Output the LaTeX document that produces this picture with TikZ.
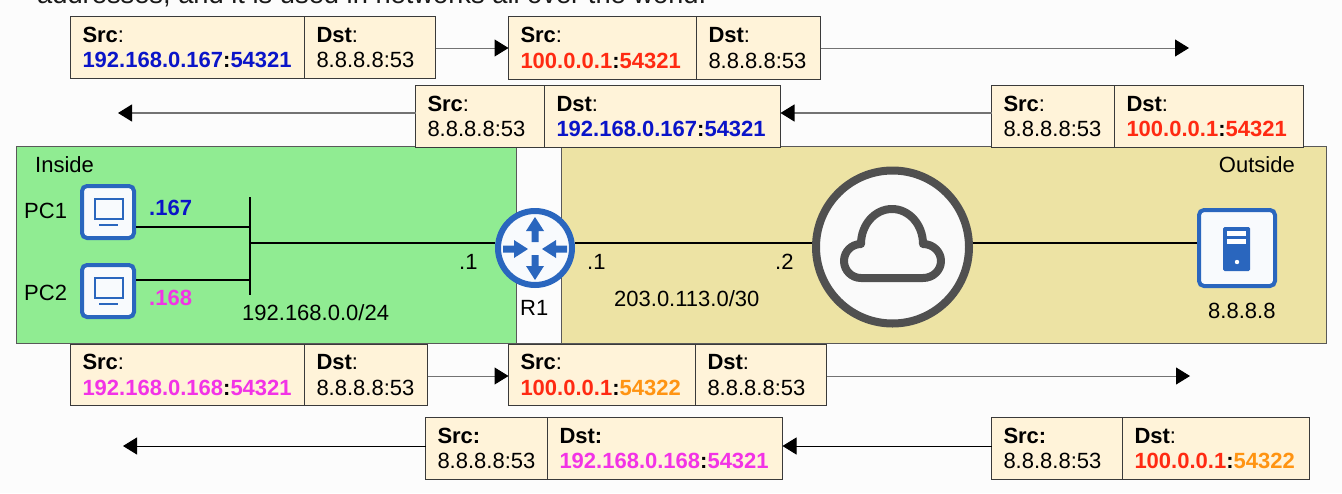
\documentclass[tikz,border=0pt]{standalone}
\usepackage{fontspec}
\setmainfont{Liberation Sans}
\definecolor{pktfill}{HTML}{FFF3D9}
\definecolor{pktline}{HTML}{3A3A3A}
\definecolor{ingreen}{HTML}{90EC92}
\definecolor{outsand}{HTML}{EDE3A4}
\definecolor{icoblue}{HTML}{2A66BE}
\definecolor{icowhite}{HTML}{F8FAFD}
\definecolor{cloudgray}{HTML}{505050}
\definecolor{tblue}{HTML}{0A14C8}
\definecolor{tred}{HTML}{FF2A12}
\definecolor{tmag}{HTML}{F233E6}
\definecolor{torange}{HTML}{FF9412}
\newcommand{\A}[1]{\textcolor{tblue}{\textbf{#1}}}
\newcommand{\R}[1]{\textcolor{tred}{\textbf{#1}}}
\newcommand{\M}[1]{\textcolor{tmag}{\textbf{#1}}}
\newcommand{\OG}[1]{\textcolor{torange}{\textbf{#1}}}
\newcommand{\cl}{\textbf{:}}
% name, x0, xsplit, x1, y0, y1, left text, right text
\newcommand{\pkt}[8]{%
  \pgfmathsetmacro{\wa}{#3-#2}\pgfmathsetmacro{\wb}{#4-#3}\pgfmathsetmacro{\hh}{#6-#5}%
  \pgfmathsetmacro{\ta}{#3-#2-24}\pgfmathsetmacro{\tb}{#4-#3-24}%
  \node[cell,anchor=north west,minimum width=\wa pt,minimum height=\hh pt,text width=\ta pt] (#1a) at (#2+.5,#5+.5) {#7};
  \node[cell,anchor=north west,minimum width=\wb pt,minimum height=\hh pt,text width=\tb pt] (#1b) at (#3+.5,#5+.5) {#8};
}
\newcommand{\pcicon}[3]{% name, x0, y0
  \node[devbox,anchor=north west,minimum size=52pt] (#1) at (#2,#3) {};
  \draw[icoblue,line width=2.5pt] (#2+15,#3+15) rectangle (#2+43,#3+35);
  \draw[icoblue,line width=2.5pt] (#2+19,#3+41) -- (#2+38,#3+41);
}
\newcommand{\rarrow}[4]{% base x,y; unit direction towards the tip, canvas sense
  \fill[icoblue,shift={(#1,#2)},cm={#3,#4,-#4,#3,(0,0)}]
   (0,-3.5) -- (11,-3.5) -- (11,-9) -- (25,0) -- (11,9) -- (11,3.5) -- (0,3.5) -- cycle;
}
\tikzset{
  cell/.style={draw=pktline,line width=1pt,fill=pktfill,inner xsep=12pt,inner ysep=0pt,outer sep=0pt,align=left,
    font=\fontsize{22}{25.5}\selectfont},
  lbl/.style={anchor=base west,inner sep=0pt,font=\fontsize{22}{25}\selectfont},
  devbox/.style={draw=icoblue,line width=4pt,fill=icowhite,rounded corners=5pt,inner sep=0pt},
  wire/.style={black,line width=2.8pt},
  flow/.style={draw=#1,-{Triangle[length=14pt,width=17pt,color=black]}},
  flow/.default={gray}
}
\usetikzlibrary{arrows.meta}
\begin{document}
\begin{tikzpicture}[x=1pt,y=-1pt]
\useasboundingbox (0,0) rectangle (1342,493);
\clip (0,0) rectangle (1342,493);
\fill[white!99!black] (0,0) rectangle (1342,493);
\node[lbl,font=\fontsize{27.3}{30}\selectfont,text=black!90] (caption) at (37,3) {addresses, and it is used in networks all over the world.};
% zones
\node[draw=black!65,line width=1pt,fill=ingreen,anchor=north west,minimum width=500pt,minimum height=197pt,inner sep=0pt,outer sep=0pt] (inzone) at (16,146.5) {};
\node[draw=black!65,line width=1pt,fill=outsand,anchor=north west,minimum width=765pt,minimum height=197pt,inner sep=0pt,outer sep=0pt] (outzone) at (561,146.5) {};
\draw[black!65,line width=1pt] (inzone.north east) -- (outzone.north west);
\draw[black!65,line width=1pt] (inzone.south east) -- (outzone.south west);
% packets
\pkt{pa}{70}{304}{435}{16}{78}{\textbf{Src}:\\\A{192.168.0.167}\cl\A{54321}}{\textbf{Dst}:\\8.8.8.8:53}
\pkt{pb}{508}{696}{820}{16}{79}{\textbf{Src}:\\\R{100.0.0.1}\cl\R{54321}}{\textbf{Dst}:\\8.8.8.8:53}
\pkt{pc}{415}{544}{780}{85}{147}{\textbf{Src}:\\8.8.8.8:53}{\textbf{Dst}:\\\A{192.168.0.167}\cl\A{54321}}
\pkt{pd}{991}{1114}{1303}{85}{147}{\textbf{Src}:\\8.8.8.8:53}{\textbf{Dst}:\\\R{100.0.0.1}\cl\R{54321}}
\pkt{pe}{70}{304}{427}{344}{405}{\textbf{Src}:\\\M{192.168.0.168}\cl\M{54321}}{\textbf{Dst}:\\8.8.8.8:53}
\pkt{pf}{508}{695}{826}{344}{405}{\textbf{Src}:\\\R{100.0.0.1}\cl\OG{54322}}{\textbf{Dst}:\\8.8.8.8:53}
\pkt{pg}{425}{547}{782}{417}{479}{\textbf{Src:}\\8.8.8.8:53}{\textbf{Dst:}\\\M{192.168.0.168}\cl\M{54321}}
\pkt{ph}{991}{1122}{1309}{417}{479}{\textbf{Src:}\\8.8.8.8:53}{\textbf{Dst}:\\\R{100.0.0.1}\cl\OG{54322}}
% free ends
\coordinate (fa) at (1189,48);
\coordinate (fc) at (118,113);
\coordinate (fe) at (1190,376);
\coordinate (fg) at (123,446);
% flow arrows
\draw[flow=black!55,line width=1pt] (pab.east |- 0,48) -- (pba.west |- 0,48);
\draw[flow=black!55,line width=1pt] (pbb.east |- fa) -- (fa);
\draw[flow=black!55,line width=1.2pt] (pca.west |- fc) -- (fc);
\draw[flow=black!55,line width=1.2pt] (pda.west |- fc) -- (pcb.east |- fc);
\draw[flow=black!55,line width=1pt] (peb.east |- fe) -- (pfa.west |- fe);
\draw[flow=black!55,line width=1pt] (pfb.east |- fe) -- (fe);
\draw[flow=black,line width=1pt] (pga.west |- fg) -- (fg);
\draw[flow=black,line width=1pt] (pha.west |- fg) -- (pgb.east |- fg);
% wires
\coordinate (bustop) at (250,197);
\coordinate (busbot) at (250,295);
\coordinate (tap1) at (250,227);
\coordinate (tap2) at (250,280);
\coordinate (tap3) at (250,243);
\draw[wire] (bustop) -- (busbot);
% devices
\pcicon{pc1}{80}{184}
\pcicon{pc2}{80}{263}
\draw[wire] (pc1.east |- tap1) -- (tap1);
\draw[wire] (pc2.east |- tap2) -- (tap2);
\node[circle,draw=icoblue,line width=6pt,fill=icowhite,minimum size=74pt,inner sep=0pt] (r1) at (535,248) {};
\rarrow{535}{242}{0}{1}
\rarrow{535}{255}{0}{-1}
\rarrow{503}{249}{1}{0}
\rarrow{567}{249}{-1}{0}
\node[circle,draw=cloudgray,line width=8pt,fill=white!98!black,minimum size=153pt,inner sep=0pt] (inet) at (892.5,247) {};
\draw[cloudgray,line width=8pt,line join=round]
  (861,278) .. controls (851.6,278) and (844,270.4) .. (844,261)
  .. controls (844,251.6) and (851.6,244) .. (861,244)
  .. controls (861,224.7) and (874.9,209) .. (892,209)
  .. controls (909.1,209) and (923,224.7) .. (923,244)
  .. controls (933,244) and (941,251.6) .. (941,261)
  .. controls (941,270.4) and (933,278) .. (923,278) -- cycle;
\node[devbox,anchor=north west,minimum size=76pt] (srv) at (1197,208) {};
\fill[icoblue,rounded corners=1.5pt] (1223,227) rectangle (1250,271);
\fill[white] (1227,231) rectangle (1246,236);
\fill[white] (1227,239) rectangle (1246,244);
\fill[white] (1237,262) circle (2.2);
\coordinate (rline) at (0,243);
\draw[wire] (tap3) -- (r1.west |- rline);
\draw[wire] (r1.east |- rline) -- (inet.west |- rline);
\draw[wire] (inet.east |- rline) -- (srv.west |- rline);
% labels
\node[lbl] (linside) at (35,172) {Inside};
\node[lbl] (lpc1) at (24,218) {PC1};
\node[lbl] (lpc2) at (24,300) {PC2};
\node[lbl] (l167) at (149,215) {\A{.167}};
\node[lbl] (l168) at (149,305) {\M{.168}};
\node[lbl] (lnet) at (242,320) {192.168.0.0/24};
\node[lbl] (ld1) at (459,269) {.1};
\node[lbl] (ld2) at (587,269) {.1};
\node[lbl] (ld3) at (775,269) {.2};
\node[lbl] (lwan) at (614,306) {203.0.113.0/30};
\node[lbl] (lr1) at (520,315) {R1};
\node[lbl,anchor=base east] (loutside) at (1295,172) {Outside};
\node[lbl] (lsrv) at (1208,318) {8.8.8.8};
\end{tikzpicture}
\end{document}
